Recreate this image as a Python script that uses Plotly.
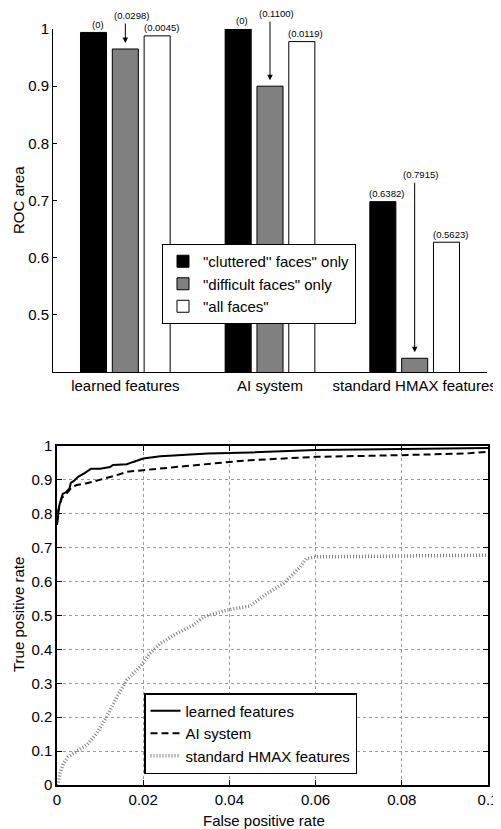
import plotly.graph_objects as go

# ---------------- data ----------------
categories = ["learned features", "AI system", "standard HMAX features"]
series_names = ['"cluttered\'\' faces" only', '"difficult faces" only', '"all faces"']
roc_cluttered = [0.994, 1.000, 0.698]
roc_difficult = [0.965, 0.900, 0.424]
roc_all = [0.988, 0.978, 0.627]
p_cluttered = ["(0)", "(0)", "(0.6382)"]
p_difficult = ["(0.0298)", "(0.1100)", "(0.7915)"]
p_all = ["(0.0045)", "(0.0119)", "(0.5623)"]

fpr_learned = [0, 0.0005, 0.0013, 0.0022, 0.0029, 0.0032, 0.0039, 0.0049, 0.0065, 0.0079,
               0.010, 0.0123, 0.013, 0.0162, 0.0177, 0.020, 0.024, 0.030, 0.035, 0.045,
               0.060, 0.080, 0.100]
tpr_learned = [0.767, 0.823, 0.858, 0.865, 0.875, 0.891, 0.897, 0.909, 0.921, 0.933,
               0.933, 0.938, 0.944, 0.946, 0.953, 0.963, 0.970, 0.975, 0.978, 0.981,
               0.988, 0.991, 0.994]
fpr_ai = [0, 0.0003, 0.0011, 0.0019, 0.0034, 0.0046, 0.0069, 0.010, 0.0139, 0.0162,
          0.020, 0.0255, 0.033, 0.040, 0.0448, 0.060, 0.080, 0.0904, 0.095, 0.100]
tpr_ai = [0.77, 0.81, 0.847, 0.855, 0.878, 0.885, 0.89, 0.90, 0.914, 0.924,
          0.929, 0.934, 0.944, 0.953, 0.958, 0.968, 0.973, 0.975, 0.978, 0.983]
fpr_hmax = [0, 0.0003, 0.0007, 0.0015, 0.0026, 0.0046, 0.0069, 0.0092, 0.0115, 0.0139,
            0.0162, 0.0193, 0.0216, 0.024, 0.0278, 0.0316, 0.034, 0.0394, 0.0448, 0.0487,
            0.0525, 0.0564, 0.0579, 0.0603, 0.080, 0.100]
tpr_hmax = [0, 0.005, 0.035, 0.064, 0.083, 0.098, 0.118, 0.152, 0.201, 0.26,
            0.31, 0.349, 0.389, 0.418, 0.447, 0.472, 0.496, 0.516, 0.528, 0.565,
            0.594, 0.643, 0.668, 0.673, 0.675, 0.678]

# ---------------- figure ----------------
# The page body has an 8px margin, so the figure is drawn 8px smaller
# and all page positions are shifted by that amount.
PAGE_W, PAGE_H, BODY = 501, 829, 8
W, H = PAGE_W - BODY, PAGE_H - BODY


def px(x):  # page x pixel -> paper fraction
    return (x - BODY) / W


def py(y):  # page y pixel (from top) -> paper fraction
    return 1 - (y - BODY) / H


FONT = "Liberation Sans, Arial, Helvetica, sans-serif"
fig = go.Figure()

xpos = [1, 2, 3]
bar_vals = [roc_cluttered, roc_difficult, roc_all]
bar_p = [p_cluttered, p_difficult, p_all]
bar_fill = ["#000000", "#808080", "#ffffff"]
offsets = [-0.22, 0.0, 0.22]
BW = 0.18

for name, vals, col, off in zip(series_names, bar_vals, bar_fill, offsets):
    fig.add_trace(go.Bar(
        x=xpos, y=vals, name=name, width=BW, offset=off - BW / 2,
        marker=dict(color=col, line=dict(color="black", width=1)),
        xaxis="x", yaxis="y", legend="legend",
    ))

# p-value labels
arrow_len = {1: [34, 73, 184]}  # pixel distance of arrowed labels above bar tops
annotations = []
for si, (vals, labels, off) in enumerate(zip(bar_vals, bar_p, offsets)):
    for ci, (v, lab) in enumerate(zip(vals, labels)):
        xv = xpos[ci] + off
        if si in arrow_len:
            L = arrow_len[si][ci]
            annotations.append(dict(x=xv, y=v, xref="x", yref="y", text=lab,
                                    showarrow=False, xshift=6, yshift=L,
                                    font=dict(size=9.5, family=FONT, color="black")))
            annotations.append(dict(x=xv, y=v, xref="x", yref="y", text="",
                                    showarrow=True, ax=0, ay=-(L - 7), axref="pixel",
                                    ayref="pixel", arrowhead=2, arrowsize=1.1,
                                    arrowwidth=1, arrowcolor="black", standoff=6))
        else:
            annotations.append(dict(x=xv, y=v, xref="x", yref="y", text=lab,
                                    showarrow=False, xshift=4, yshift=8,
                                    font=dict(size=9.5, family=FONT, color="black")))

# axis titles
title_font = dict(size=15, family=FONT, color="black")
annotations += [
    dict(text="ROC area", x=px(18), y=py(200), xref="paper", yref="paper",
         xanchor="center", yanchor="middle", textangle=-90, showarrow=False, font=title_font),
    dict(text="True positive rate", x=px(18), y=py(615), xref="paper", yref="paper",
         xanchor="center", yanchor="middle", textangle=-90, showarrow=False, font=title_font),
    dict(text="False positive rate", x=px(264), y=py(820), xref="paper", yref="paper",
         xanchor="center", yanchor="middle", showarrow=False, font=title_font),
]

# ROC curves
fig.add_trace(go.Scatter(x=fpr_learned, y=tpr_learned, mode="lines", name="learned features",
                         line=dict(color="black", width=2), xaxis="x2", yaxis="y2",
                         legend="legend2"))
fig.add_trace(go.Scatter(x=fpr_ai, y=tpr_ai, mode="lines", name="AI system",
                         line=dict(color="black", width=2, dash="7px,4px"), xaxis="x2",
                         yaxis="y2", legend="legend2"))
fig.add_trace(go.Scatter(x=fpr_hmax, y=tpr_hmax, mode="lines", name="standard HMAX features",
                         line=dict(color="#808080", width=3.5, dash="1px,2px"), xaxis="x2",
                         yaxis="y2", legend="legend2"))

common = dict(automargin=False, zeroline=False, tickfont=dict(size=15, family=FONT))

fig.update_layout(
    template="none",
    width=W, height=H, margin=dict(l=0, r=0, t=0, b=0, pad=0),
    paper_bgcolor="white", plot_bgcolor="white",
    font=dict(family=FONT, size=15, color="black"),
    barmode="overlay",
    showlegend=True,
    annotations=annotations,
    xaxis=dict(domain=[px(53), px(487)], anchor="y", range=[0.5, 3.5],
               tickvals=xpos, ticktext=categories, ticks="", showline=True,
               linecolor="black", linewidth=1, showgrid=False, **common),
    yaxis=dict(domain=[py(372), py(29)], anchor="x", range=[0.4, 1.0],
               tickvals=[0.5, 0.6, 0.7, 0.8, 0.9, 1.0], ticktext=["0.5", "0.6", "0.7", "0.8", "0.9", "1"],
               ticks="inside", ticklen=4, tickcolor="black", showline=True,
               linecolor="black", linewidth=1, showgrid=False, **common),
    xaxis2=dict(domain=[px(57), px(488)], anchor="y2", range=[0, 0.1],
                tickvals=[0, 0.02, 0.04, 0.06, 0.08, 0.1],
                ticktext=["0", "0.02", "0.04", "0.06", "0.08", "0.1"],
                ticks="inside", ticklen=5, tickcolor="black", showline=True, mirror="ticks",
                linecolor="black", linewidth=1.5, showgrid=True, gridcolor="#9a9a9a",
                griddash="dot", gridwidth=1, **common),
    yaxis2=dict(domain=[py(785), py(446)], anchor="x2", range=[0, 1],
                tickvals=[0, 0.1, 0.2, 0.3, 0.4, 0.5, 0.6, 0.7, 0.8, 0.9, 1.0],
                ticktext=["0", "0.1", "0.2", "0.3", "0.4", "0.5", "0.6", "0.7", "0.8", "0.9", "1"],
                ticks="inside", ticklen=5, tickcolor="black", showline=True, mirror="ticks",
                linecolor="black", linewidth=1.5, showgrid=True, gridcolor="#9a9a9a",
                griddash="dot", gridwidth=1, **common),
    legend=dict(x=px(162), y=py(244), xanchor="left", yanchor="top",
                bgcolor="white", bordercolor="black", borderwidth=1,
                font=dict(size=15, family=FONT), tracegroupgap=0, itemwidth=30),
    legend2=dict(x=px(144), y=py(693), xanchor="left", yanchor="top",
                 bgcolor="white", bordercolor="black", borderwidth=1.5,
                 font=dict(size=15, family=FONT), tracegroupgap=0, itemwidth=30),
)

fig.write_html("out.html")
